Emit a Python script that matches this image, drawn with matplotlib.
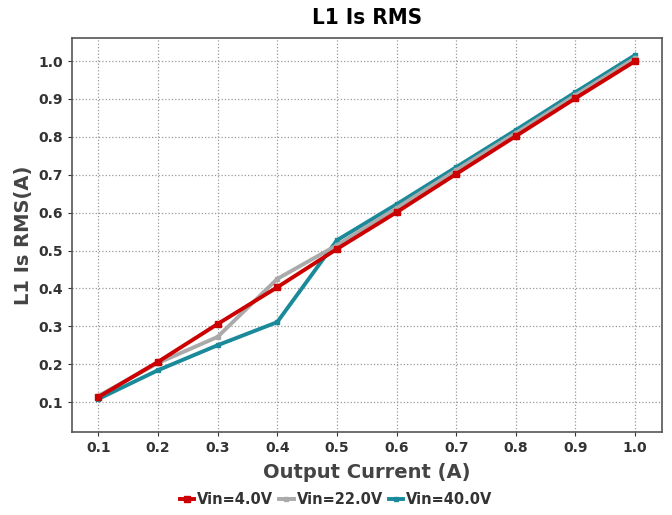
import matplotlib
matplotlib.use('Agg')
import matplotlib.pyplot as plt

# Output current steps in A
current = [0.1, 0.2, 0.3, 0.4, 0.5, 0.6, 0.7, 0.8, 0.9, 1.0]

# L1 Is RMS in A for each input voltage
rms_4v = [0.113, 0.206, 0.306, 0.403, 0.504, 0.601, 0.702, 0.802, 0.902, 1.000]
rms_22v = [0.116, 0.203, 0.272, 0.425, 0.514, 0.612, 0.712, 0.810, 0.910, 1.008]
rms_40v = [0.108, 0.184, 0.250, 0.311, 0.527, 0.622, 0.720, 0.818, 0.918, 1.016]

labels = ['Vin=4.0V', 'Vin=22.0V', 'Vin=40.0V']
colors = ['#cc0000', '#aaaaaa', '#1a8a9a']
xticks = [0.1, 0.2, 0.3, 0.4, 0.5, 0.6, 0.7, 0.8, 0.9, 1.0]
yticks = [0.1, 0.2, 0.3, 0.4, 0.5, 0.6, 0.7, 0.8, 0.9, 1.0]

fig = plt.figure(figsize=(6.72, 5.15), dpi=100)
ax = fig.add_axes([72 / 672, 1 - 432 / 515, 590 / 672, 394 / 515])

# draw back to front so the red series sits on top
series = [rms_40v, rms_22v, rms_4v]
order = [2, 1, 0]
lines = {}
for data, i in zip(series, order):
    ms = 5 if i == 0 else 3.5
    ln, = ax.plot(current, data, color=colors[i], lw=2.8, marker='s',
                  markersize=ms, label=labels[i], zorder=3 + (2 - i))
    lines[i] = ln

ax.set_xlim(0.056, 1.045)
ax.set_ylim(0.021, 1.061)
ax.set_xticks(xticks)
ax.set_yticks(yticks)
ax.set_xticklabels(['%.1f' % v for v in xticks])
ax.set_yticklabels(['%.1f' % v for v in yticks])
ax.tick_params(labelsize=10, colors='#333333', length=3)
for lab in ax.get_xticklabels() + ax.get_yticklabels():
    lab.set_fontweight('bold')

ax.grid(True, linestyle=':', color='#999999', linewidth=0.9)
for side in ['left', 'bottom', 'top', 'right']:
    ax.spines[side].set_color('#555555')
    ax.spines[side].set_linewidth(1.2)

ax.set_title('L1 Is RMS', fontsize=16, fontweight='bold', pad=10,
             fontstretch='condensed')
ax.set_xlabel('Output Current (A)', fontsize=14, fontweight='bold',
              color='#444444', labelpad=6)
ax.set_ylabel('L1 Is RMS(A)', fontsize=14, fontweight='bold',
              color='#444444', labelpad=4)

handles = [lines[0], lines[1], lines[2]]
leg = fig.legend(handles, labels, loc='lower center', ncol=3, frameon=False,
                 bbox_to_anchor=(0.5, -0.01), handlelength=1.0,
                 handletextpad=0.2, columnspacing=0.4,
                 prop={'weight': 'bold', 'size': 10.5})
for t in leg.get_texts():
    t.set_color('#333333')

fig.savefig('out.png', dpi=100)
